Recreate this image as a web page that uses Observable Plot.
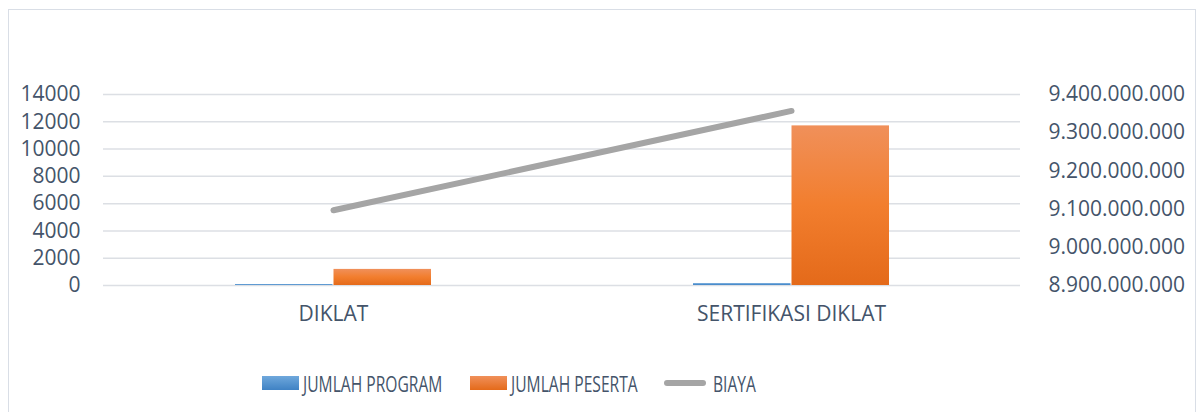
<!DOCTYPE html>
<html>
<head>
<meta charset="utf-8">
<script src="https://cdn.jsdelivr.net/npm/d3@7"></script>
<script src="https://cdn.jsdelivr.net/npm/@observablehq/plot@0.6"></script>
<style>
  html, body { margin: 0; padding: 0; background: #fff; width: 1202px; height: 412px; overflow: hidden; }
  #frame { position: absolute; left: 8px; top: 9px; width: 1188px; height: 420px; border: 1.5px solid #D9DEE6; box-sizing: border-box; }
  #chart { position: absolute; left: 0; top: 0; }
  #legend { position: absolute; top: 368px; left: 262px; display: flex; align-items: center; font-family: "Open Sans", sans-serif; font-size: 22px; color: #44546A; white-space: nowrap; }
  .item { display: flex; align-items: center; }
  .sw { width: 37px; height: 14px; margin-right: 4px; }
  .ln { width: 42px; height: 6px; border-radius: 3px; background: #A5A5A5; margin-right: 7px; }
  .lbl { display: inline-block; transform-origin: left center; }
</style>
</head>
<body>
<div id="frame"></div>
<div id="chart"></div>
<div id="legend"></div>
<script>
const categories = ["DIKLAT", "SERTIFIKASI DIKLAT"];
const jumlahProgram = [70, 140];
const jumlahPeserta = [1180, 11700];
const biaya = [9097000000, 9357000000];
const leftTicks = [0, 2000, 4000, 6000, 8000, 10000, 12000, 14000];
const rightTicks = [8900000000, 9000000000, 9100000000, 9200000000, 9300000000, 9400000000];
const seriesNames = ["JUMLAH PROGRAM", "JUMLAH PESERTA", "BIAYA"];

const textColor = "#44546A";
const rMin = 8900000000, rMax = 9400000000, lMax = 14000;
const toLeft = v => (v - rMin) / (rMax - rMin) * lMax;

const barsProgram = categories.map((c, i) => ({cat: c, value: jumlahProgram[i]}));
const barsPeserta = categories.map((c, i) => ({cat: c, value: jumlahPeserta[i]}));
const linePts = categories.map((c, i) => ({cat: c, y: toLeft(biaya[i])}));

const idFmt = d3.formatLocale({decimal: ",", thousands: ".", grouping: [3], currency: ["", ""]}).format(",");

const chart = Plot.plot({
  width: 1202,
  height: 345,
  marginLeft: 103,
  marginRight: 182,
  marginTop: 94,
  marginBottom: 60,
  style: {fontFamily: "Open Sans, sans-serif", fontSize: "21px", color: textColor, background: "transparent"},
  x: {domain: categories, paddingInner: 0.5725, paddingOuter: 0.28625, label: null},
  y: {domain: [0, lMax], label: null},
  marks: [
    Plot.ruleY(leftTicks, {stroke: "#DCDFE4", strokeWidth: 1.5}),
    Plot.axisY({ticks: leftTicks, tickSize: 0, tickPadding: 23, tickFormat: d => String(d), label: null, fontSize: 21}),
    Plot.axisY({anchor: "right", ticks: rightTicks.map(toLeft), tickSize: 0, tickPadding: 28, textAnchor: "start",
      tickFormat: (d) => idFmt(Math.round(rMin + d / lMax * (rMax - rMin))), label: null, fontSize: 21}),
    Plot.axisX({tickSize: 0, tickPadding: 21, label: null, fontSize: 21}),
    Plot.barY(barsProgram, {x: "cat", y: "value", fill: "#5B9BD5", insetRight: 98.5}),
    Plot.barY(barsPeserta, {x: "cat", y: "value", fill: "#ED7D31", insetLeft: 98.5}),
    Plot.lineY(linePts, {x: "cat", y: "y", stroke: "#A5A5A5", strokeWidth: 6, strokeLinecap: "round"})
  ]
});

// gradients for bars
const svg = d3.select(chart);
const defs = svg.insert("defs", ":first-child");
const gB = defs.append("linearGradient").attr("id", "gBlue").attr("x1", 0).attr("y1", 0).attr("x2", 0).attr("y2", 1);
gB.append("stop").attr("offset", "0%").attr("stop-color", "#6FA8DC");
gB.append("stop").attr("offset", "100%").attr("stop-color", "#3F82C4");
const gO = defs.append("linearGradient").attr("id", "gOrange").attr("x1", 0).attr("y1", 0).attr("x2", 0).attr("y2", 1);
gO.append("stop").attr("offset", "0%").attr("stop-color", "#F0905A");
gO.append("stop").attr("offset", "50%").attr("stop-color", "#F27E2E");
gO.append("stop").attr("offset", "100%").attr("stop-color", "#E46A1A");
const barGroups = svg.selectAll("g[aria-label='bar']").nodes();
if (barGroups[0]) d3.select(barGroups[0]).selectAll("rect").attr("fill", "url(#gBlue)");
if (barGroups[1]) d3.select(barGroups[1]).selectAll("rect").attr("fill", "url(#gOrange)");

document.getElementById("chart").appendChild(chart);

// legend
const legend = d3.select("#legend");
const items = [
  {name: seriesNames[0], kind: "sw", bg: "linear-gradient(#6FA8DC, #3F82C4)", scale: 0.71},
  {name: seriesNames[1], kind: "sw", bg: "linear-gradient(#F0905A, #E46A1A)", scale: 0.71},
  {name: seriesNames[2], kind: "ln", bg: null, scale: 0.71}
];
const gaps = [28, 26, 0];
items.forEach((it, i) => {
  const d = legend.append("div").attr("class", "item").style("margin-right", gaps[i] + "px");
  if (it.kind === "sw") d.append("div").attr("class", "sw").style("background", it.bg);
  else d.append("div").attr("class", "ln");
  const wrap = d.append("div").style("overflow", "visible");
  const span = wrap.append("span").attr("class", "lbl").text(it.name).style("transform", `scaleX(${it.scale})`);
  const w = span.node().getBoundingClientRect().width;
  wrap.style("width", w + "px");
});
</script>
</body>
</html>
